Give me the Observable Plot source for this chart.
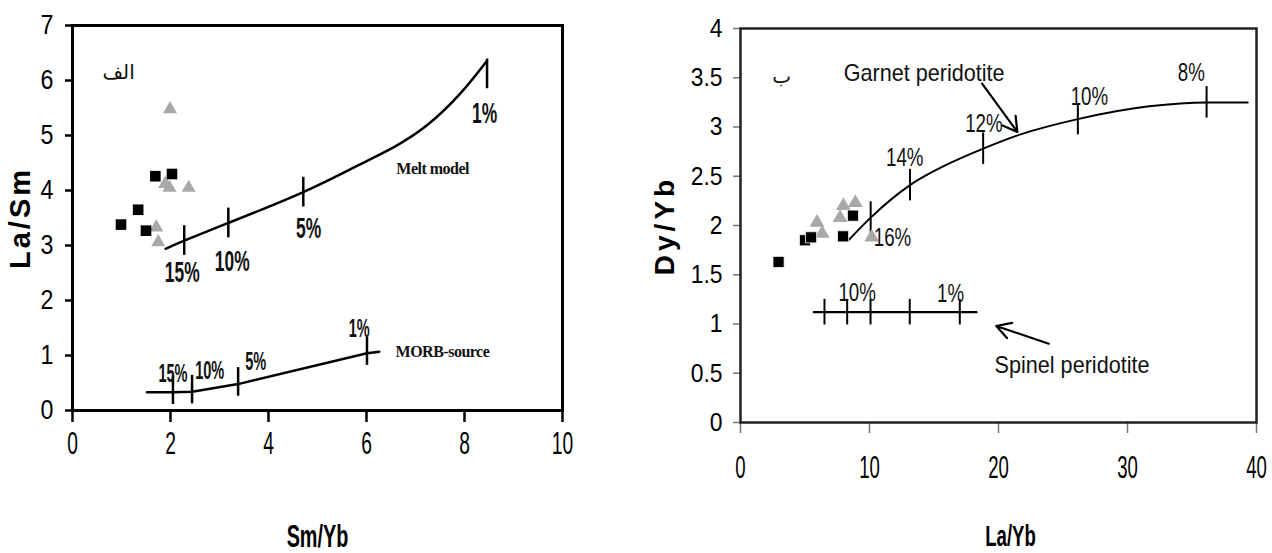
<!DOCTYPE html>
<html><head><meta charset="utf-8">
<script src="https://cdn.jsdelivr.net/npm/d3@7"></script>
<script src="https://cdn.jsdelivr.net/npm/@observablehq/plot@0.6"></script>
<style>
body{margin:0;background:#fff;}
#wrap{position:relative;width:1272px;height:553px;overflow:hidden;background:#fff;}
#left{position:absolute;left:0;top:0;}
#right{position:absolute;left:640px;top:0;}
svg{overflow:visible;}
</style></head><body><div id="wrap"><div id="left"></div><div id="right"></div></div>
<script>
// ---------- Panel الف : La/Sm vs Sm/Yb ----------
const leftXTicks = [0, 2, 4, 6, 8, 10];
const leftYTicks = [0, 1, 2, 3, 4, 5, 6, 7];
const leftSquares = [[0.99, 3.38], [1.34, 3.65], [1.50, 3.27], [1.69, 4.26], [2.03, 4.30]];
const leftTriangles = [[1.99, 5.48], [1.89, 4.12], [1.98, 4.05], [2.37, 4.05], [1.71, 3.33], [1.75, 3.06]];
const meltModel = [[1.90, 2.94], [2.28, 3.09], [3.18, 3.41], [4.71, 3.97], [5.88, 4.48], [6.56, 4.79], [7.24, 5.19], [7.93, 5.78], [8.46, 6.36]];
const meltTicks = [[2.28, 3.09], [3.18, 3.41], [4.71, 3.97], [8.46, 6.12]];
const meltLabels = [[2.24, 2.51, "15%"], [3.26, 2.70, "10%"], [4.82, 3.31, "5%"], [8.41, 5.40, "1%"]];
const morbSource = [[1.52, 0.33], [2.05, 0.33], [2.44, 0.34], [3.38, 0.48], [6.01, 1.04], [6.26, 1.07]];
const morbTicks = [[2.05, 0.33], [2.44, 0.34], [3.38, 0.48], [6.01, 1.04]];
const morbLabels = [[2.05, 0.67, "15%"], [2.80, 0.73, "10%"], [3.74, 0.88, "5%"], [5.85, 1.48, "1%"]];
const leftNotes = [[7.35, 4.40, "Melt model"], [7.55, 1.06, "MORB-source"]];
const leftPanelTag = [[0.94, 6.15, "الف"]];

// ---------- Panel ب : Dy/Yb vs La/Yb ----------
const rightXTicks = [0, 10, 20, 30, 40];
const rightYTicks = [0, 0.5, 1, 1.5, 2, 2.5, 3, 3.5, 4];
const rightSquares = [[2.95, 1.63], [5.0, 1.85], [5.47, 1.88], [7.95, 1.89], [8.72, 2.10]];
const rightTriangles = [[5.93, 2.03], [6.33, 1.92], [7.98, 2.20], [7.72, 2.08], [8.9, 2.23], [10.17, 1.88]];
const garnet = [[8.37, 1.85], [10.09, 2.08], [13.14, 2.41], [15.87, 2.61], [18.81, 2.78], [21.6, 2.92], [26.15, 3.08], [31.68, 3.21], [36.13, 3.25], [39.32, 3.25]];
const garnetTicks = [[10.09, 2.08], [13.14, 2.41], [18.81, 2.78], [26.15, 3.08], [36.13, 3.25]];
const garnetLabels = [[11.78, 1.88, "16%"], [12.73, 2.69, "14%"], [18.87, 3.03, "12%"], [27.05, 3.31, "10%"], [34.95, 3.55, "8%"]];
const spinel = [[5.68, 1.12], [18.3, 1.12]];
const spinelTicks = [[6.51, 1.12], [8.27, 1.12], [10.08, 1.12], [13.12, 1.12], [17.0, 1.12]];
const spinelLabels = [[9.04, 1.32, "10%"], [16.28, 1.31, "1%"]];
const rightNotes = [[14.23, 3.54, "Garnet peridotite"], [25.7, 0.58, "Spinel peridotite"]];
const rightArrows = [[18.73, 3.44, 21.46, 2.95], [23.9, 0.80, 19.83, 0.98]];
const rightPanelTag = [[3.19, 3.51, "ب"]];

// font helper: "sqNN" is a non-existent family used only to tag horizontal squeeze (NN %)
const sq = k => `"Liberation Sans", sq${k}, Arial, sans-serif`;
const SANS = '"Liberation Sans",Arial,sans-serif';
const SERIF = '"Liberation Serif","Times New Roman",serif';
const ARABIC = '"DejaVu Sans",sans-serif';
const X = d => d[0], Y = d => d[1], T = d => d[2];
const fmt = d => `${d}`;

const left = Plot.plot({
  width: 640, height: 553,
  marginLeft: 72, marginRight: 78, marginTop: 25, marginBottom: 143,
  x: {domain: [0, 10]},
  y: {domain: [0, 7]},
  style: {background: "transparent"},
  marks: [
    Plot.axisX({ticks: leftXTicks, tickFormat: fmt, tickSize: 12, tickPadding: 9, stroke: "#000", strokeWidth: 2.5, fontSize: 31, fontFamily: sq(62), fill: "#000", label: null}),
    Plot.axisY({ticks: leftYTicks, tickFormat: fmt, tickSize: 7, tickPadding: 12, stroke: "#000", strokeWidth: 2.5, fontSize: 27, fontFamily: sq(86), fill: "#000", label: null}),
    Plot.frame({stroke: "#000", strokeWidth: 3}),
    Plot.line(meltModel, {x: X, y: Y, curve: "natural", stroke: "#000", strokeWidth: 2.5}),
    Plot.ruleX(meltTicks, {x: X, y1: d => d[1] - 0.27, y2: d => d[1] + 0.27, stroke: "#000", strokeWidth: 2.5}),
    Plot.line(morbSource, {x: X, y: Y, stroke: "#000", strokeWidth: 2.5}),
    Plot.ruleX(morbTicks, {x: X, y1: d => d[1] - 0.22, y2: d => d[1] + 0.3, stroke: "#000", strokeWidth: 2.5}),
    Plot.dot(leftTriangles, {x: X, y: Y, symbol: "triangle", r: 5.2, fill: "#a8a8a8"}),
    Plot.dot(leftSquares, {x: X, y: Y, symbol: "square", r: 6, fill: "#000"}),
    Plot.text(meltLabels, {x: X, y: Y, text: T, fontSize: 29, fontFamily: sq(60), fontWeight: "bold", fill: "#111"}),
    Plot.text(morbLabels, {x: X, y: Y, text: T, fontSize: 26, fontFamily: sq(56), fontWeight: "bold", fill: "#111"}),
    Plot.text(leftNotes, {x: X, y: Y, text: T, fontSize: 16, fontFamily: SERIF, fontWeight: "bold", fill: "#111"}),
    Plot.text(leftPanelTag, {x: X, y: Y, text: T, fontSize: 20, fontFamily: ARABIC, fill: "#111"}),
    Plot.text(["Sm/Yb"], {frameAnchor: "bottom", dy: 127, lineAnchor: "middle", textAnchor: "middle", fontSize: 31, fontFamily: sq(64), fontWeight: "bold", fill: "#000"}),
    Plot.text(["La/Sm"], {frameAnchor: "left", dx: -52, rotate: -90, textAnchor: "middle", lineAnchor: "middle", fontSize: 29, fontFamily: SANS, fontWeight: "bold", fill: "#000"})
  ]
});
document.getElementById("left").appendChild(left);

const right = Plot.plot({
  width: 632, height: 553,
  marginLeft: 100, marginRight: 16, marginTop: 28, marginBottom: 131,
  x: {domain: [0, 40]},
  y: {domain: [0, 4]},
  style: {background: "transparent"},
  marks: [
    Plot.axisX({ticks: rightXTicks, tickFormat: fmt, tickSize: 11, tickPadding: 22, stroke: "#777", strokeWidth: 1.5, fontSize: 32, fontFamily: sq(58), fill: "#000", label: null}),
    Plot.axisY({ticks: rightYTicks, tickFormat: fmt, tickSize: 7, tickPadding: 11, stroke: "#777", strokeWidth: 1.5, fontSize: 26, fontFamily: sq(88), fill: "#000", label: null}),
    Plot.frame({stroke: "#222", strokeWidth: 2.5}),
    Plot.line(garnet, {x: X, y: Y, curve: "monotone-x", stroke: "#000", strokeWidth: 2}),
    Plot.ruleX(garnetTicks, {x: X, y1: d => d[1] - 0.16, y2: d => d[1] + 0.16, stroke: "#000", strokeWidth: 2}),
    Plot.line(spinel, {x: X, y: Y, stroke: "#000", strokeWidth: 2.2}),
    Plot.ruleX(spinelTicks, {x: X, y1: d => d[1] - 0.13, y2: d => d[1] + 0.13, stroke: "#000", strokeWidth: 2}),
    Plot.arrow(rightArrows, {x1: d => d[0], y1: d => d[1], x2: d => d[2], y2: d => d[3], stroke: "#000", strokeWidth: 2.2, headLength: 11}),
    Plot.dot(rightTriangles, {x: X, y: Y, symbol: "triangle", r: 5.5, fill: "#a8a8a8"}),
    Plot.dot(rightSquares, {x: X, y: Y, symbol: "square", r: 6.3, fill: "#000", stroke: "#fff", strokeWidth: 0.8}),
    Plot.text(garnetLabels, {x: X, y: Y, text: T, fontSize: 26, fontFamily: sq(72), fill: "#111"}),
    Plot.text(spinelLabels, {x: X, y: Y, text: T, fontSize: 26, fontFamily: sq(72), fill: "#111"}),
    Plot.text(rightNotes, {x: X, y: Y, text: T, fontSize: 24, fontFamily: sq(90), fill: "#111"}),
    Plot.text(rightPanelTag, {x: X, y: Y, text: T, fontSize: 20, fontFamily: ARABIC, fill: "#111"}),
    Plot.text(["La/Yb"], {frameAnchor: "bottom", dy: 114, dx: 12, lineAnchor: "middle", textAnchor: "middle", fontSize: 30, fontFamily: sq(62), fontWeight: "bold", fill: "#000"}),
    Plot.text(["Dy/Yb"], {frameAnchor: "left", dx: -75, rotate: -90, textAnchor: "middle", lineAnchor: "middle", fontSize: 28, fontFamily: SANS, fontWeight: "bold", fill: "#000"})
  ]
});
document.getElementById("right").appendChild(right);

for (const t of document.querySelectorAll("svg text")) {
  const txt = t.textContent;
  if (txt === "La/Sm") t.style.letterSpacing = "3px";
  if (txt === "Dy/Yb") t.style.letterSpacing = "4px";
  if (txt === "Melt model" || txt === "MORB-source") t.style.letterSpacing = "-0.5px";
  const m = getComputedStyle(t).fontFamily.match(/sq(\d+)/);
  if (m) {
    const w = t.getComputedTextLength();
    t.setAttribute("textLength", (w * (+m[1]) / 100).toFixed(2));
    t.setAttribute("lengthAdjust", "spacingAndGlyphs");
  }
}
</script>
</body></html>
